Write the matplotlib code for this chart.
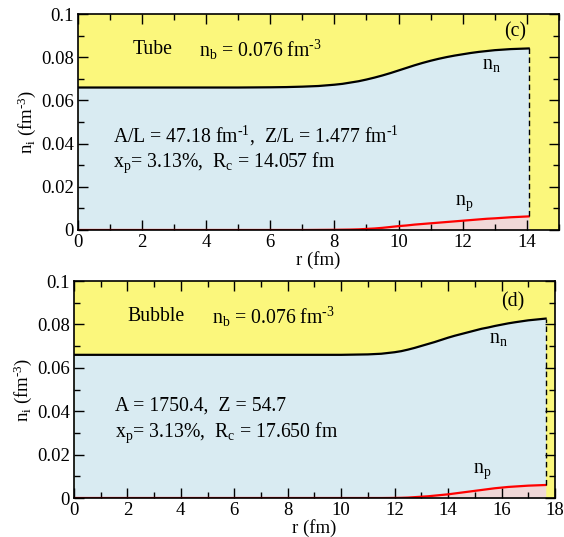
import numpy as np
import matplotlib
matplotlib.use("Agg")
import matplotlib.pyplot as plt
from matplotlib.ticker import MultipleLocator, FuncFormatter

plt.rcParams['font.family'] = ['Liberation Serif', 'DejaVu Serif']
plt.rcParams['mathtext.fontset'] = 'custom'
plt.rcParams['mathtext.rm'] = 'Liberation Serif'
plt.rcParams['mathtext.it'] = 'Liberation Serif:italic'

# tube (c): density profiles inside the cell, r in fm, n in fm^-3
r_tube = [0, 1, 2, 3, 4, 5, 6, 6.5, 7, 7.5, 8, 8.25, 8.5, 8.75, 9, 9.25,
          9.5, 9.75, 10, 10.25, 10.5, 10.75, 11, 11.25, 11.5, 11.75, 12,
          12.25, 12.5, 12.75, 13, 13.5, 14.057]
nn_tube = [0.0660, 0.0660, 0.0660, 0.0660, 0.0660, 0.0660, 0.0661, 0.0662,
           0.0664, 0.0667, 0.0673, 0.0677, 0.0683, 0.0689, 0.0697, 0.0706,
           0.0716, 0.0727, 0.0739, 0.0751, 0.0763, 0.0774, 0.0784, 0.0793,
           0.0801, 0.0808, 0.0814, 0.0820, 0.0825, 0.0829, 0.0833, 0.0838,
           0.0841]
np_tube = [0, 0, 0, 0, 0, 0, 0, 0, 0, 0.00005, 0.0001, 0.00015, 0.0002,
           0.0003, 0.0005, 0.0007, 0.0010, 0.0014, 0.0018, 0.0021, 0.0025,
           0.0028, 0.0031, 0.0034, 0.0037, 0.0040, 0.0043, 0.0046, 0.0049,
           0.0052, 0.0054, 0.0059, 0.0063]
Rc_tube = 14.057

# bubble (d)
r_bub = [0, 1, 2, 3, 4, 5, 6, 7, 8, 9, 10, 10.5, 11, 11.5, 12, 12.25, 12.5,
         12.75, 13, 13.25, 13.5, 13.75, 14, 14.25, 14.5, 14.75, 15, 15.25,
         15.5, 15.75, 16, 16.25, 16.5, 17, 17.65]
nn_bub = [0.0660, 0.0660, 0.0660, 0.0660, 0.0660, 0.0660, 0.0660, 0.0660,
          0.0660, 0.0660, 0.0660, 0.0661, 0.0662, 0.0665, 0.0672, 0.0677,
          0.0684, 0.0692, 0.0701, 0.0710, 0.0719, 0.0729, 0.0739, 0.0748,
          0.0756, 0.0764, 0.0772, 0.0780, 0.0786, 0.0793, 0.0799, 0.0805,
          0.0810, 0.0819, 0.0827]
np_bub = [0, 0, 0, 0, 0, 0, 0, 0, 0, 0, 0, 0, 0, 0, 0.00005, 0.0001, 0.0002,
          0.0004, 0.0006, 0.0008, 0.0011, 0.0014, 0.0017, 0.0021, 0.0025,
          0.0029, 0.0033, 0.0037, 0.0041, 0.0045, 0.0048, 0.0051, 0.0053,
          0.0057, 0.0060]
Rc_bub = 17.65

yellow = '#fbf77c'
blue = '#d9ebf2'
pink = '#f0d8d8'

fig = plt.figure(figsize=(5.64, 5.37), dpi=100)
ax1 = fig.add_axes([0.138, 0.5717, 0.853, 0.402])
ax2 = fig.add_axes([0.131, 0.0726, 0.853, 0.404])


def draw_panel(ax, r, nn, npr, Rc, xmax):
    ax.set_facecolor(yellow)
    ax.fill_between(r, 0, nn, color=blue, lw=0)
    ax.fill_between(r, 0, npr, color=pink, lw=0)
    ax.plot(r, nn, color='black', lw=1.6)
    ax.plot(r, npr, color='red', lw=1.6)
    ax.plot([Rc, Rc], [npr[-1], nn[-1]], color='black', lw=1.0, ls=(0, (4, 2.5)))
    ax.set_xlim(0, xmax)
    ax.set_ylim(0, 0.1)
    ax.xaxis.set_major_locator(MultipleLocator(2))
    ax.xaxis.set_minor_locator(MultipleLocator(1))
    ax.yaxis.set_major_locator(MultipleLocator(0.02))
    ax.yaxis.set_minor_locator(MultipleLocator(0.01))
    ax.yaxis.set_major_formatter(FuncFormatter(lambda v, p: '%g' % round(v, 3)))
    ax.tick_params(which='both', direction='in', top=True, right=True,
                   labelsize=13.5, width=1.0, pad=3)
    ax.tick_params(which='major', length=7)
    ax.tick_params(which='minor', length=4)
    for s in ax.spines.values():
        s.set_linewidth(1.2)
    ax.set_xlabel('r (fm)', fontsize=13.5, labelpad=0)
    ax.set_ylabel(r'n$_\mathrm{i}$ (fm$^{\text{-3}}$)', fontsize=13.5, labelpad=2)


fs = 14.2
nb_text = r'n$_\mathrm{b}$ = 0.076 fm$^{\text{-3}}$'

draw_panel(ax1, r_tube, nn_tube, np_tube, Rc_tube, 15)
ax1.text(1.7, 0.0835, 'Tube', fontsize=fs, va='center')
ax1.text(3.77, 0.0835, nb_text, fontsize=fs, va='center')
ax1.text(1.1, 0.0435, r'A/L = 47.18 fm$^{\text{-1}}$,  Z/L = 1.477 fm$^{\text{-1}}$',
         fontsize=fs, va='center')
ax1.text(1.1, 0.031, r'x$_\mathrm{p}$= 3.13%,  R$_\mathrm{c}$ = 14.057 fm', fontsize=fs, va='center')
ax1.text(13.3, 0.092, '(c)', fontsize=fs, va='center')
ax1.text(12.6, 0.0765, r'n$_\mathrm{n}$', fontsize=fs, va='center')
ax1.text(11.75, 0.0125, r'n$_\mathrm{p}$', fontsize=fs, va='center')

draw_panel(ax2, r_bub, nn_bub, np_bub, Rc_bub, 18)
ax2.text(2.0, 0.0835, 'Bubble', fontsize=fs, va='center')
ax2.text(5.17, 0.0835, nb_text, fontsize=fs, va='center')
ax2.text(1.53, 0.0425, 'A = 1750.4,  Z = 54.7', fontsize=fs, va='center')
ax2.text(1.53, 0.030, r'x$_\mathrm{p}$= 3.13%,  R$_\mathrm{c}$ = 17.650 fm', fontsize=fs, va='center')
ax2.text(16.0, 0.0905, '(d)', fontsize=fs, va='center')
ax2.text(15.55, 0.0735, r'n$_\mathrm{n}$', fontsize=fs, va='center')
ax2.text(14.95, 0.0125, r'n$_\mathrm{p}$', fontsize=fs, va='center')

fig.savefig('out.png', dpi=100)
